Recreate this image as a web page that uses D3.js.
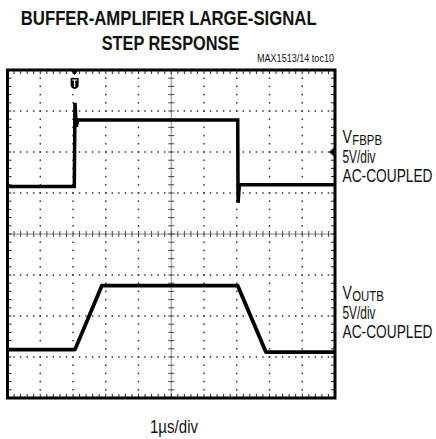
<!DOCTYPE html>
<html>
<head>
<meta charset="utf-8">
<script src="https://cdn.jsdelivr.net/npm/d3@7"></script>
<style>
html,body{margin:0;padding:0;background:#fff;}
svg{display:block;}
text{font-family:"Liberation Sans","Arial",sans-serif;fill:#111;}
</style>
</head>
<body>
<svg id="c" width="436" height="439"></svg>
<script>
// ---- data ----
const titleLines = ["BUFFER-AMPLIFIER LARGE-SIGNAL", "STEP RESPONSE"];
const noteText = "MAX1513/14 toc10";
const xLabel = "1\u00b5s/div";
// time in µs (1 µs/div, 10 div), screen volts (5 V/div, 8 div, centre = 0)
const timeDomain = [0, 10];
const voltDomain = [-20, 20];
const xDivs = 10, yDivs = 8, minorPerDiv = 5;
// channel 1: VFBPB
const fbpbTime  = [0, 2.04, 2.06, 2.10, 2.15, 7.03, 7.04, 7.08, 10];
const fbpbVolts = [5.8, 5.8, 16.0, 13.1, 13.9, 13.9, 3.8, 6.0, 6.0];
// channel 2: VOUTB
const outbTime  = [0, 2.06, 2.88, 7.03, 7.89, 10];
const outbVolts = [-14.1, -14.1, -6.3, -6.3, -14.4, -14.4];
// channel labels
const ch1Label = {main: "V", sub: "FBPB", scale: "5V/div", coupling: "AC-COUPLED"};
const ch2Label = {main: "V", sub: "OUTB", scale: "5V/div", coupling: "AC-COUPLED"};
const ch1GroundVolts = 10;   // ground marker on right edge
const triggerTime = 2.05;    // trigger marker on top edge

// ---- layout ----
const L = 7.5, R = 335, T = 70, B = 398;
const svg = d3.select("#c");
const x = d3.scaleLinear().domain(timeDomain).range([L, R]);
const y = d3.scaleLinear().domain(voltDomain).range([B, T]);
const SX = 0.76; // horizontal condensing of label type

function cText(px, py, size, str, opts = {}) {
  const gg = svg.append("g").attr("transform", `translate(${px},${py}) scale(${opts.sx || SX},1)`);
  const t = gg.append("text").attr("x", 0).attr("y", 0).attr("font-size", size);
  if (opts.bold) t.attr("font-weight", "bold");
  if (opts.len) t.attr("textLength", opts.len / (opts.sx || SX)).attr("lengthAdjust", "spacingAndGlyphs");
  return t.text(str);
}

// titles
cText(20.7, 25, 21, titleLines[0], {bold: true, len: 296});
cText(101.7, 50, 21, titleLines[1], {bold: true, len: 137.6});
cText(257, 62, 11.5, noteText, {len: 77});

// grid
const g = svg.append("g");
const xMajor = d3.range(0, xDivs + 1).map(i => timeDomain[0] + i * (timeDomain[1] - timeDomain[0]) / xDivs);
const yMajor = d3.range(0, yDivs + 1).map(i => voltDomain[0] + i * (voltDomain[1] - voltDomain[0]) / yDivs);
const xMinor = d3.range(0, xDivs * minorPerDiv + 1).map(i => timeDomain[0] + i * (timeDomain[1] - timeDomain[0]) / (xDivs * minorPerDiv));
const yMinor = d3.range(0, yDivs * minorPerDiv + 1).map(i => voltDomain[0] + i * (voltDomain[1] - voltDomain[0]) / (yDivs * minorPerDiv));
const xMid = (timeDomain[0] + timeDomain[1]) / 2, yMid = (voltDomain[0] + voltDomain[1]) / 2;

xMajor.slice(1, -1).filter(v => v !== xMid).forEach(xv => {
  yMinor.slice(1, -1).forEach(yv => {
    g.append("rect").attr("x", x(xv) - 0.75).attr("y", y(yv) - 0.75).attr("width", 1.5).attr("height", 1.5).attr("fill", "#333");
  });
});
yMajor.slice(1, -1).filter(v => v !== yMid).forEach(yv => {
  xMinor.slice(1, -1).forEach(xv => {
    g.append("rect").attr("x", x(xv) - 0.75).attr("y", y(yv) - 0.75).attr("width", 1.5).attr("height", 1.5).attr("fill", "#333");
  });
});
g.append("line").attr("x1", x(xMid)).attr("x2", x(xMid)).attr("y1", T).attr("y2", B).attr("stroke", "#888").attr("stroke-width", 1);
g.append("line").attr("x1", L).attr("x2", R).attr("y1", y(yMid)).attr("y2", y(yMid)).attr("stroke", "#888").attr("stroke-width", 1);
yMinor.slice(1, -1).forEach(yv => {
  g.append("line").attr("x1", x(xMid) - 3).attr("x2", x(xMid) + 3).attr("y1", y(yv)).attr("y2", y(yv)).attr("stroke", "#444").attr("stroke-width", 1);
});
xMinor.slice(1, -1).forEach(xv => {
  g.append("line").attr("x1", x(xv)).attr("x2", x(xv)).attr("y1", y(yMid) - 3).attr("y2", y(yMid) + 3).attr("stroke", "#444").attr("stroke-width", 1);
});
xMinor.slice(1, -1).forEach(xv => {
  g.append("line").attr("x1", x(xv)).attr("x2", x(xv)).attr("y1", T).attr("y2", T + 4).attr("stroke", "#222").attr("stroke-width", 1);
  g.append("line").attr("x1", x(xv)).attr("x2", x(xv)).attr("y1", B).attr("y2", B - 4).attr("stroke", "#222").attr("stroke-width", 1);
});
yMinor.slice(1, -1).forEach(yv => {
  g.append("line").attr("x1", L).attr("x2", L + 4).attr("y1", y(yv)).attr("y2", y(yv)).attr("stroke", "#222").attr("stroke-width", 1);
  g.append("line").attr("x1", R).attr("x2", R - 4).attr("y1", y(yv)).attr("y2", y(yv)).attr("stroke", "#222").attr("stroke-width", 1);
});

// traces
const line = d3.line().x(d => x(d[0])).y(d => y(d[1]));
const ch1 = fbpbTime.map((t, i) => [t, fbpbVolts[i]]);
const ch2 = outbTime.map((t, i) => [t, outbVolts[i]]);
svg.append("path").attr("d", line(ch1)).attr("fill", "none").attr("stroke", "#000").attr("stroke-width", 3.5).attr("stroke-linejoin", "miter");
svg.append("path").attr("d", line(ch2)).attr("fill", "none").attr("stroke", "#000").attr("stroke-width", 3.8).attr("stroke-linejoin", "round");

// border
svg.append("rect").attr("x", L).attr("y", T).attr("width", R - L).attr("height", B - T)
  .attr("fill", "none").attr("stroke", "#000").attr("stroke-width", 3);

// trigger marker
const tx = x(triggerTime);
svg.append("path").attr("d", `M${tx - 4},${T} L${tx + 4},${T} L${tx},${T + 5} Z`).attr("fill", "#000");
svg.append("path").attr("d", `M${tx - 4},${T + 8} L${tx + 4},${T + 8} L${tx + 4},${T + 15} Q${tx + 4},${T + 18} ${tx},${T + 19} Q${tx - 4},${T + 18} ${tx - 4},${T + 15} Z`).attr("fill", "#000");
svg.append("path").attr("d", `M${tx - 2.5},${T + 10} L${tx + 2.5},${T + 10} M${tx},${T + 10} L${tx},${T + 17}`).attr("stroke", "#fff").attr("stroke-width", 1.2);

// ground marker ch1
const gy = y(ch1GroundVolts);
svg.append("path").attr("d", `M${R - 1},${gy - 4.5} L${R - 1},${gy + 4.5} L${R - 6},${gy} Z`).attr("fill", "#000");

// channel labels
function chLabel(lab, base) {
  const t = cText(342.5, base, 18.5, "");
  t.append("tspan").text(lab.main);
  t.append("tspan").attr("font-size", 15).attr("dy", 1.5).attr("dx", 0.5).text(lab.sub);
  cText(342.5, base + 19.5, 18, lab.scale, {len: 33});
  cText(342.5, base + 39, 18, lab.coupling, {len: 90});
}
chLabel(ch1Label, 143);
chLabel(ch2Label, 299);

// x label
cText(150, 433, 18.5, xLabel, {len: 48, sx: 0.81});
</script>
</body>
</html>
